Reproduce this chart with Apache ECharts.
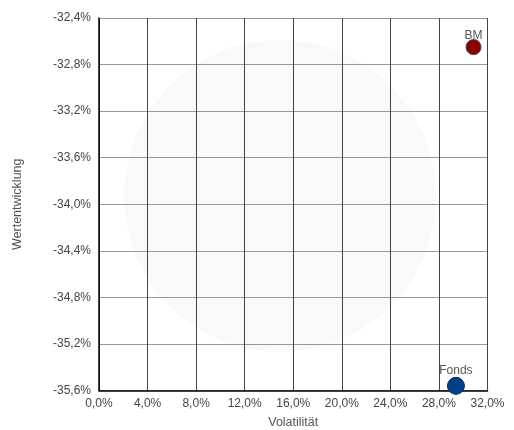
<!DOCTYPE html>
<html>
<head>
<meta charset="utf-8">
<script src="https://cdn.jsdelivr.net/npm/echarts@6/dist/echarts.min.js"></script>
<style>html,body{margin:0;padding:0;background:#fff}#c{width:514px;height:430px}</style>
</head>
<body>
<div id="c"></div>
<script>
var names = ['BM', 'Fonds'];
var volatility = [30.85, 29.4];
var performance = [-32.65, -35.56];
var colors = ['#8b0000', '#003f87'];
var xTicks = {min: 0, max: 32, interval: 4};
var yTicks = {min: -35.6, max: -32.4, interval: 0.4};

function fmt(v, d) { return v.toFixed(d).replace('.', ',') + '%'; }

var chart = echarts.init(document.getElementById('c'));
var font = 'Liberation Sans, Arial, sans-serif';
chart.setOption({
  animation: false,
  textStyle: {fontFamily: font},
  graphic: [{
    type: 'circle', z: -10, silent: true,
    shape: {cx: 280, cy: 196, r: 156},
    style: {fill: '#f9f9f9'}
  }],
  grid: {left: 99, top: 18, right: 26.5, bottom: 39.5, containLabel: false, outerBoundsMode: 'none'},
  xAxis: {
    type: 'value', min: xTicks.min, max: xTicks.max, interval: xTicks.interval,
    name: 'Volatilität', nameLocation: 'middle', nameGap: 26,
    nameTextStyle: {color: '#555', fontSize: 12.5, fontFamily: font},
    axisLine: {show: true, onZero: false, lineStyle: {color: '#000', width: 1.5}},
    axisTick: {show: false},
    axisLabel: {color: '#444', fontSize: 12, margin: 7, fontFamily: font, formatter: function (v) { return fmt(v, 1); }},
    splitLine: {show: true, lineStyle: {color: '#444', width: 1}}
  },
  yAxis: {
    type: 'value', min: yTicks.min, max: yTicks.max, interval: yTicks.interval,
    name: 'Wertentwicklung', nameLocation: 'middle', nameGap: 75, nameRotate: 90,
    nameTextStyle: {color: '#555', fontSize: 12.5, fontFamily: font},
    axisLine: {show: true, onZero: false, lineStyle: {color: '#000', width: 1.5}},
    axisTick: {show: false},
    axisLabel: {color: '#444', fontSize: 12, margin: 8, fontFamily: font, formatter: function (v) { return fmt(v, 1); }},
    splitLine: {show: true, lineStyle: {color: '#999', width: 1}}
  },
  series: names.map(function (n, i) {
    return {
      type: 'scatter', name: n,
      symbolSize: i === 0 ? 15 : 17,
      data: [[volatility[i], performance[i]]],
      itemStyle: {color: colors[i], borderColor: i === 0 ? '#444' : '#002a5c', borderWidth: 1, opacity: 1},
      label: {show: true, position: 'top', distance: i === 0 ? -3 : 0, formatter: n, color: '#555', fontSize: 12, fontFamily: font},
      z: 10
    };
  })
});
</script>
</body>
</html>
